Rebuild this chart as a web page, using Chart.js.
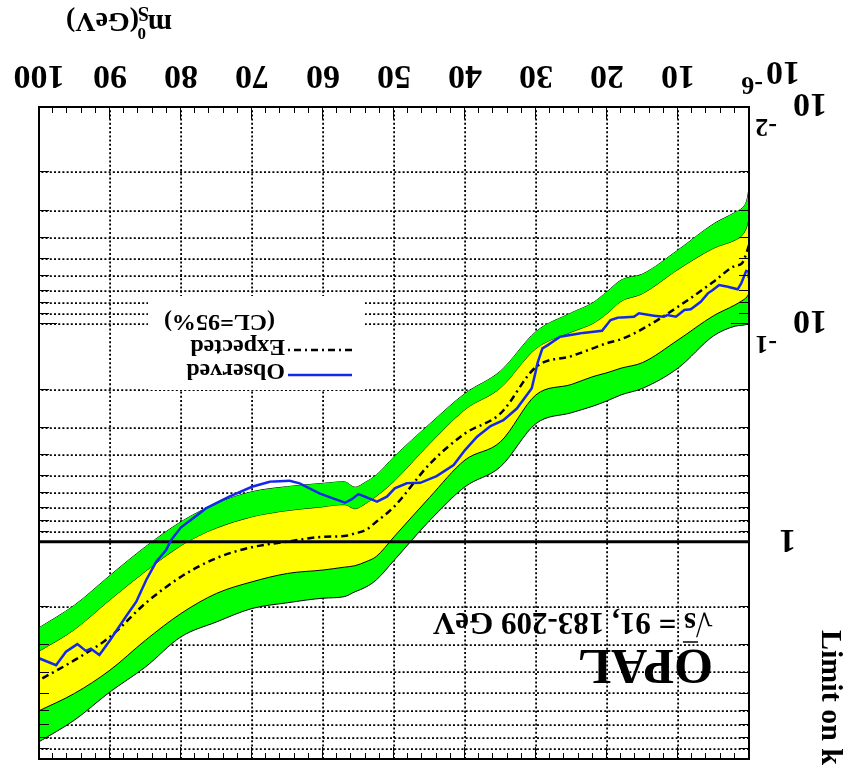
<!DOCTYPE html>
<html>
<head>
<meta charset="utf-8">
<script src="https://cdn.jsdelivr.net/npm/chart.js@4.4.1/dist/chart.umd.min.js"></script>
<style>
  html, body { margin: 0; padding: 0; background: #fff; }
  /* the reference picture is the OPAL plot turned upside down */
  #wrap { width: 847px; height: 770px; transform: rotate(180deg); }
</style>
</head>
<body>
<div id="wrap"><canvas id="chart" width="847" height="770"></canvas></div>
<script>
// Mass points (GeV) where the expected limit and its bands were read
const bandMass = [0, 0.3, 1, 2, 5, 10, 15, 18, 20, 22, 25, 30, 35, 40, 45, 50, 52.5, 54, 55.5, 57, 60, 65, 70, 75, 80, 85, 90, 95, 100];
const minus2Sigma = [0.0237, 0.0268, 0.0292, 0.0306, 0.0345, 0.0455, 0.0587, 0.0625, 0.0708, 0.0796, 0.0885, 0.108, 0.164, 0.208, 0.288, 0.407, 0.494, 0.532, 0.562, 0.530, 0.539, 0.558, 0.589, 0.667, 0.810, 1.055, 1.43, 1.96, 2.49];
const minus1Sigma = [0.0331, 0.0360, 0.0392, 0.0412, 0.0449, 0.0562, 0.0726, 0.0787, 0.0897, 0.0997, 0.109, 0.130, 0.197, 0.248, 0.356, 0.530, 0.621, 0.671, 0.710, 0.679, 0.695, 0.723, 0.773, 0.869, 1.048, 1.375, 1.86, 2.55, 3.21];
const expectedLimit = [0.0432, 0.0464, 0.0524, 0.0539, 0.0637, 0.0830, 0.105, 0.117, 0.122, 0.129, 0.140, 0.157, 0.257, 0.318, 0.440, 0.691, 0.810, 0.885, 0.916, 0.942, 0.950, 1.00, 1.06, 1.19, 1.45, 1.92, 2.74, 3.51, 4.34];
const plus1Sigma = [0.0720, 0.0748, 0.0779, 0.0815, 0.0913, 0.118, 0.150, 0.159, 0.167, 0.174, 0.189, 0.211, 0.347, 0.421, 0.626, 0.950, 1.17, 1.238, 1.29, 1.31, 1.35, 1.40, 1.53, 1.73, 2.14, 2.84, 3.90, 4.99, 6.00];
const plus2Sigma = [0.0990, 0.100, 0.101, 0.102, 0.113, 0.159, 0.197, 0.211, 0.225, 0.238, 0.255, 0.286, 0.452, 0.559, 0.801, 1.22, 1.50, 1.62, 1.70, 1.79, 1.82, 1.91, 2.03, 2.34, 2.74, 3.77, 4.91, 6.62, 8.33];

// Observed limit
const obsMass = [0, 0.05, 0.4, 1.1, 1.6, 3.0, 4.2, 5.1, 5.8, 6.8, 8.2, 9.1, 10.3, 11.5, 12.0, 13.4, 15.5, 16.2, 18.5, 19.5, 20.7, 23.7, 26.6, 28.4, 29.1, 29.8, 30.1, 30.6, 30.8, 32.7, 34.6, 36.4, 38.3, 40.0, 41.6, 44.0, 46.3, 48.2, 49.9, 51.0, 52.4, 54.1, 55.0, 56.0, 56.9, 58.6, 60.5, 63.3, 64.7, 67.5, 70.0, 73.2, 76.5, 78.3, 80.0, 81.4, 82.1, 83.5, 84.9, 86.3, 87.8, 90.0, 91.5, 92.7, 93.4, 94.6, 96.2, 97.6, 100];
const obsLimit = [0.0612, 0.0573, 0.0569, 0.0648, 0.0690, 0.0671, 0.0659, 0.0695, 0.0720, 0.0787, 0.0853, 0.0859, 0.0923, 0.0906, 0.0923, 0.0913, 0.0890, 0.0923, 0.0933, 0.0955, 0.107, 0.110, 0.114, 0.125, 0.129, 0.151, 0.168, 0.197, 0.201, 0.244, 0.276, 0.294, 0.329, 0.379, 0.444, 0.499, 0.536, 0.539, 0.568, 0.621, 0.655, 0.621, 0.604, 0.639, 0.662, 0.632, 0.600, 0.539, 0.525, 0.530, 0.559, 0.621, 0.703, 0.781, 0.859, 0.983, 1.094, 1.238, 1.50, 1.89, 2.22, 2.84, 3.32, 3.11, 3.18, 2.96, 3.21, 3.70, 3.44];

// Reference line at k = 1
const refMass = [0, 100];
const refLimit = [1, 1];

// Tick labels (base, exponent)
const massLabels = ['10', '10', '20', '30', '40', '50', '60', '70', '80', '90', '100'];
const massExponent = '-6';
const kLabelValues = [0.01, 0.1, 1];
const kLabelBases = ['10', '10', '1'];
const kLabelExponents = ['-2', '-1', ''];

const SERIF = "'Liberation Serif', 'Times New Roman', serif";
const GREEN = '#00ff00';
const YELLOW = '#ffff00';
const BLUE = 'rgb(20,40,235)';
const EXP_DASH = [7, 4, 2, 4];
const GRID_DASH = [2, 2.2];

function points(xs, ys) {
  return xs.map((x, i) => ({ x: x, y: ys[i] }));
}

function drawPower(ctx, base, exponent, left, baseline, expLeft, expBaseline) {
  ctx.textAlign = 'left';
  ctx.font = 'bold 34px ' + SERIF;
  ctx.fillText(base, left, baseline);
  if (exponent) {
    ctx.font = 'bold 26px ' + SERIF;
    ctx.fillText(exponent, expLeft, expBaseline);
  }
}

// Texts, legend, frame, inner tick marks and power-of-ten labels
const decorations = {
  id: 'decorations',
  afterDraw(chart) {
    const ctx = chart.ctx;
    const area = chart.chartArea;
    const xs = chart.scales.x;
    const ys = chart.scales.y;
    ctx.save();

    // inner tick marks on all four sides
    ctx.strokeStyle = '#000';
    ctx.lineWidth = 1;
    ctx.setLineDash([]);
    ctx.beginPath();
    xs.ticks.forEach(t => {
      const px = Math.round(xs.getPixelForValue(t.value)) + 0.5;
      const len = t.value % 10 === 0 ? 12 : 6;
      ctx.moveTo(px, area.bottom); ctx.lineTo(px, area.bottom - len);
      ctx.moveTo(px, area.top); ctx.lineTo(px, area.top + len);
    });
    ys.ticks.forEach(t => {
      const py = Math.round(ys.getPixelForValue(t.value)) + 0.5;
      const major = kLabelValues.some(v => Math.abs(v - t.value) / v < 1e-6);
      const len = major ? 18 : 10;
      ctx.moveTo(area.left, py); ctx.lineTo(area.left + len, py);
      ctx.moveTo(area.right, py); ctx.lineTo(area.right - len, py);
    });
    ctx.stroke();

    // frame
    ctx.lineWidth = 2;
    ctx.strokeRect(area.left, area.top, area.right - area.left, area.bottom - area.top);

    // y labels and the 10^-6 mass label
    ctx.fillStyle = '#000';
    ctx.textBaseline = 'alphabetic';
    kLabelValues.forEach((v, i) => {
      const py = ys.getPixelForValue(v);
      if (kLabelExponents[i]) {
        drawPower(ctx, kLabelBases[i], kLabelExponents[i], 20, py + 13, 70, py - 12);
      } else {
        drawPower(ctx, kLabelBases[i], '', 51, py + 12);
      }
    });
    const x0 = xs.getPixelForValue(0);
    drawPower(ctx, massLabels[0], massExponent, x0 - 51, 708, x0 - 14, 693);

    // legend
    const obsSet = chart.data.datasets[6];
    const expSet = chart.data.datasets[4];
    ctx.fillStyle = '#fff';
    ctx.fillRect(482, 380, 217, 94);
    ctx.lineWidth = 2.5;
    ctx.strokeStyle = obsSet.borderColor;
    ctx.beginPath(); ctx.moveTo(495, 395); ctx.lineTo(559, 395); ctx.stroke();
    ctx.strokeStyle = '#000';
    ctx.setLineDash(EXP_DASH);
    ctx.beginPath(); ctx.moveTo(495, 420); ctx.lineTo(559, 420); ctx.stroke();
    ctx.setLineDash([]);
    ctx.fillStyle = '#000';
    ctx.font = 'bold 24px ' + SERIF;
    ctx.textAlign = 'left';
    ctx.fillText(obsSet.label, 562, 406);
    ctx.fillText(expSet.label, 562, 430);
    ctx.fillText('(CL=95%)', 572, 455);

    // experiment label
    ctx.font = 'bold 50px ' + SERIF;
    ctx.fillText('OPAL', 134, 120);
    ctx.font = 'bold 31px ' + SERIF;
    const rootW = ctx.measureText('\u221A').width;
    const sW = ctx.measureText('s').width;
    ctx.fillText('\u221As = 91, 183-209 GeV', 134, 157);
    ctx.lineWidth = 1.5;
    ctx.beginPath(); ctx.moveTo(134 + rootW - 2, 128); ctx.lineTo(134 + rootW + sW + 1, 128); ctx.stroke();

    // x axis title: m_{S^0} (GeV)
    ctx.font = 'bold 29px ' + SERIF;
    ctx.fillText('m', 675, 755);
    ctx.font = 'bold 20px ' + SERIF;
    ctx.fillText('S', 698, 763);
    ctx.font = 'bold 17px ' + SERIF;
    ctx.fillText('0', 701, 742);
    ctx.font = 'bold 28px ' + SERIF;
    ctx.fillText('(GeV)', 708, 757);

    // y axis title
    ctx.translate(25, 5);
    ctx.rotate(-Math.PI / 2);
    ctx.textAlign = 'right';
    ctx.font = 'bold 30px ' + SERIF;
    ctx.fillText('Limit on k', 0, 0);
    ctx.restore();
  }
};

const bandLine = { borderColor: '#000', borderWidth: 1, cubicInterpolationMode: 'monotone' };

const chart = new Chart(document.getElementById('chart'), {
  type: 'line',
  data: {
    datasets: [
      Object.assign({
        label: '+2 sigma',
        data: points(bandMass, plus2Sigma),
        backgroundColor: GREEN, fill: 1, order: 4
      }, bandLine),
      Object.assign({
        label: '-2 sigma',
        data: points(bandMass, minus2Sigma),
        fill: false, order: 4
      }, bandLine),
      Object.assign({
        label: '+1 sigma',
        data: points(bandMass, plus1Sigma),
        backgroundColor: YELLOW, fill: 3, order: 3
      }, bandLine),
      Object.assign({
        label: '-1 sigma',
        data: points(bandMass, minus1Sigma),
        fill: false, order: 3
      }, bandLine),
      {
        label: 'Expected',
        data: points(bandMass, expectedLimit),
        borderColor: '#000', borderWidth: 2.5, borderDash: EXP_DASH,
        cubicInterpolationMode: 'monotone',
        fill: false, order: 2
      },
      {
        label: 'k = 1',
        data: points(refMass, refLimit),
        borderColor: '#000', borderWidth: 3,
        fill: false, order: 1
      },
      {
        label: 'Observed',
        data: points(obsMass, obsLimit),
        borderColor: BLUE, borderWidth: 2.5,
        fill: false, order: 0
      }
    ]
  },
  options: {
    responsive: false,
    animation: false,
    devicePixelRatio: 1,
    layout: { padding: { top: 11, right: 39, left: 0, bottom: 0 } },
    elements: { point: { radius: 0 }, line: { tension: 0 } },
    plugins: {
      legend: { display: false },
      tooltip: { enabled: false }
    },
    scales: {
      x: {
        type: 'linear',
        min: 0,
        max: 100,
        z: 1,
        afterBuildTicks: scale => {
          const t = [];
          for (let v = 0; v <= 100; v += 2) t.push({ value: v });
          scale.ticks = t;
        },
        afterFit: scale => {
          scale.height = 107;
          scale.paddingLeft = 0;
          scale.paddingRight = 0;
        },
        grid: {
          drawTicks: false,
          lineWidth: 1.8,
          color: ctx => {
            const v = ctx.tick ? ctx.tick.value : 0;
            return (v % 10 === 0 && v > 0 && v < 100) ? '#000' : 'rgba(0,0,0,0)';
          }
        },
        border: { display: false, dash: GRID_DASH },
        ticks: {
          autoSkip: false,
          maxRotation: 0,
          padding: 12,
          color: '#000',
          font: { family: SERIF, size: 34, weight: 'bold' },
          // the 10^-6 label at zero mass is drawn by the decorations plugin
          callback: v => (v % 10 === 0 && v > 0 ? massLabels[v / 10] : '')
        }
      },
      y: {
        type: 'logarithmic',
        min: 0.01,
        max: 10,
        z: 1,
        afterBuildTicks: scale => {
          const t = [];
          [0.01, 0.1, 1].forEach(d => {
            for (let m = 1; m < 10; m++) t.push({ value: +(d * m).toPrecision(3) });
          });
          t.push({ value: 10 });
          scale.ticks = t;
        },
        afterFit: scale => {
          scale.width = 98;
          scale.paddingTop = 0;
          scale.paddingBottom = 0;
        },
        grid: {
          drawTicks: false,
          lineWidth: 1.8,
          color: ctx => {
            const v = ctx.tick ? ctx.tick.value : 0;
            return (v > 0.011 && v < 9.9 && Math.abs(v - 1) > 1e-6) ? '#000' : 'rgba(0,0,0,0)';
          }
        },
        border: { display: false, dash: GRID_DASH },
        ticks: { display: false, autoSkip: false }
      }
    }
  },
  plugins: [decorations]
});
</script>
</body>
</html>
